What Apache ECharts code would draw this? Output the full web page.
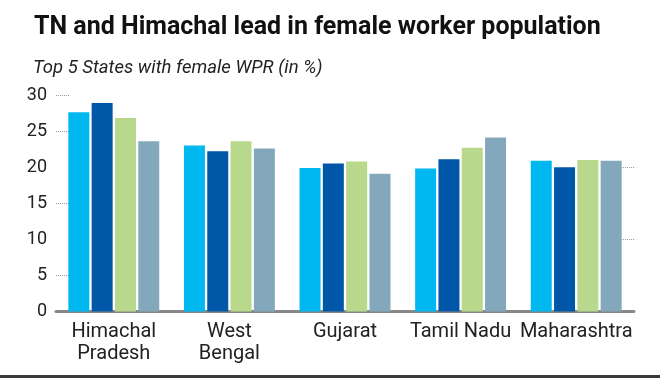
<!DOCTYPE html>
<html>
<head>
<meta charset="utf-8">
<script src="https://cdn.jsdelivr.net/npm/echarts@6/dist/echarts.min.js"></script>
<style>html,body{margin:0;padding:0;background:#fff}#c{width:660px;height:378px}</style>
</head>
<body>
<div id="c"></div>
<script>
const categories = ['Himachal\nPradesh', 'West\nBengal', 'Gujarat', 'Tamil Nadu', 'Maharashtra'];
const series1 = [27.6, 23.0, 19.9, 19.8, 20.9];
const series2 = [28.9, 22.2, 20.5, 21.1, 20.0];
const series3 = [26.8, 23.6, 20.8, 22.7, 21.0];
const series4 = [23.6, 22.6, 19.1, 24.1, 20.9];
const yTicksLeft = [5, 15, 25, 30];
const yTicksRight = [10, 20];
const colors = ['#00B8F0', '#0057A7', '#B8D98C', '#84A8BB'];

const chart = echarts.init(document.getElementById('c'), null, {renderer: 'canvas'});
const mk = (d, i) => ({
  type: 'bar', data: d, barWidth: 21, barGap: '11%',
  itemStyle: {color: colors[i]}, silent: true, animation: false
});
chart.setOption({
  animation: false,
  title: [
    {text: 'TN and Himachal lead in female worker population', left: 29, top: 10,
     textStyle: {fontFamily: 'Roboto', fontWeight: 'bold', fontSize: 25, color: '#111'}},
    {text: 'Top 5 States with female WPR (in %)', left: 28, top: 54,
     textStyle: {fontFamily: 'Roboto', fontStyle: 'italic', fontWeight: 'normal', fontSize: 18.5, color: '#222'}}
  ],
  grid: {left: 56, right: 26, top: 95, bottom: 66.5},
  xAxis: {
    type: 'category', data: categories,
    axisLine: {lineStyle: {color: '#888', width: 3}},
    axisTick: {show: false},
    axisLabel: {interval: 0, fontFamily: 'Roboto', fontSize: 20, color: '#222', lineHeight: 22, margin: 9}
  },
  yAxis: [
    {type: 'value', min: 0, max: 30, interval: 5,
     splitLine: {show: false},
     axisLine: {show: false},
     axisTick: {show: true, inside: true, length: 13, customValues: yTicksLeft,
                lineStyle: {type: 'dotted', color: '#999', width: 1}},
     axisLabel: {fontFamily: 'Roboto', fontSize: 18, color: '#222', margin: 9}},
    {type: 'value', min: 0, max: 30, interval: 5, position: 'right',
     splitLine: {show: false},
     axisLine: {show: false},
     axisLabel: {show: false},
     axisTick: {show: true, inside: true, length: 13, customValues: yTicksRight,
                lineStyle: {type: 'dotted', color: '#999', width: 1}}}
  ],
  series: [mk(series1, 0), mk(series2, 1), mk(series3, 2), mk(series4, 3)],
  graphic: [{type: 'rect', left: 0, top: 375, shape: {width: 660, height: 3}, style: {fill: '#3a3a3a'}, silent: true}]
});
</script>
</body>
</html>
